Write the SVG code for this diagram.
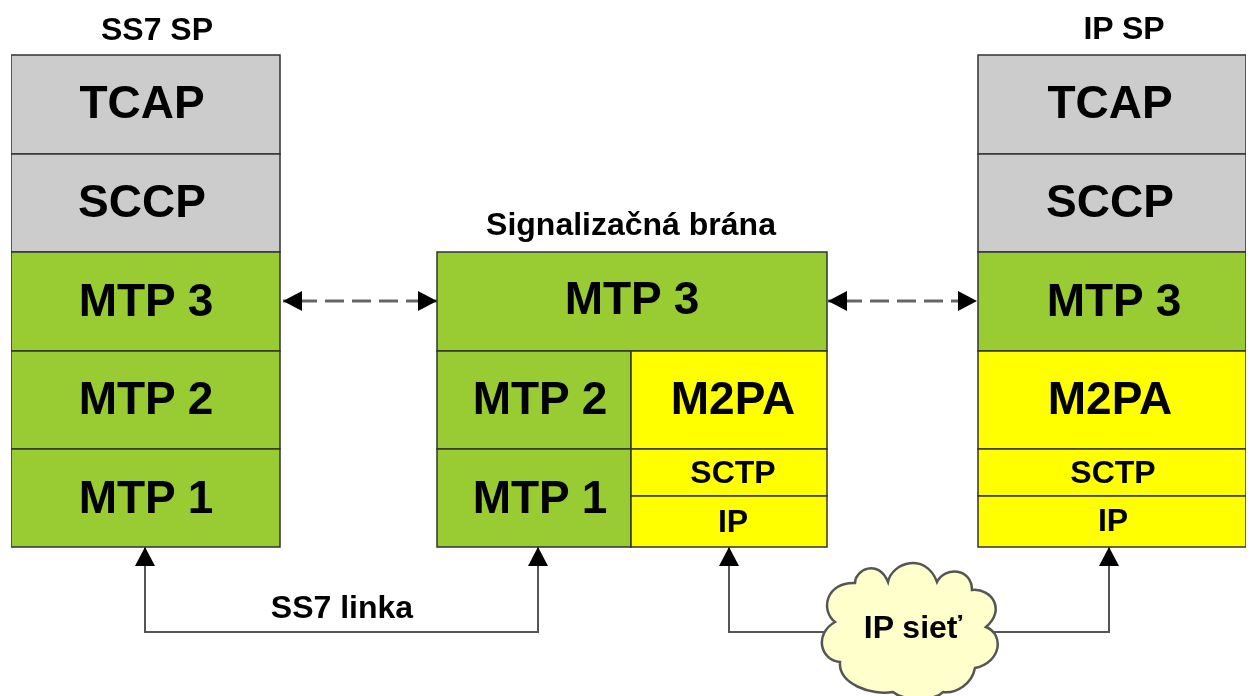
<svg xmlns="http://www.w3.org/2000/svg" width="1253" height="696" viewBox="0 0 1253 696">
<style>
text{font-family:"Liberation Sans",Arial,sans-serif;font-weight:700;fill:#000;text-anchor:middle}
.b{stroke:#333;stroke-width:1.5}
.g{fill:#ccc}.v{fill:#99cc33}.y{fill:#ffff00}
.l{font-size:46px}.m{font-size:32px}.t{font-size:32px}
.c{fill:none;stroke:#555;stroke-width:2}
.d{stroke:#666;stroke-width:3;stroke-dasharray:19 8;stroke-dashoffset:12}
</style>
<defs>
<marker id="a" markerUnits="userSpaceOnUse" markerWidth="20" markerHeight="22" refX="19" refY="11" orient="auto-start-reverse"><path d="M0 1L19 11L0 21Z" fill="#000"/></marker>
<filter id="soft" x="0" y="0" width="100%" height="100%"><feGaussianBlur stdDeviation="0.6"/></filter>
</defs>
<rect width="1253" height="696" fill="#fff"/>
<g filter="url(#soft)">
<g id="connectors">
<path class="c d" d="M283 301H437" marker-start="url(#a)" marker-end="url(#a)"/>
<path class="c d" d="M828 301H977" marker-start="url(#a)" marker-end="url(#a)"/>
<path class="c" d="M145 547V632H538V547" marker-start="url(#a)" marker-end="url(#a)"/>
<path class="c" d="M729 547V632H830" marker-start="url(#a)"/>
<path class="c" d="M992 632H1109V547" marker-end="url(#a)"/>
</g>
<g id="ss7-sp">
<text class="t" x="157" y="40">SS7 SP</text>
<rect class="b g" x="11" y="55" width="269" height="99"/><text class="l" x="142" y="118">TCAP</text>
<rect class="b g" x="11" y="154" width="269" height="98"/><text class="l" x="142" y="217">SCCP</text>
<rect class="b v" x="11" y="252" width="269" height="99"/><text class="l" x="146" y="316">MTP 3</text>
<rect class="b v" x="11" y="351" width="269" height="98"/><text class="l" x="146" y="414">MTP 2</text>
<rect class="b v" x="11" y="449" width="269" height="98"/><text class="l" x="146" y="513">MTP 1</text>
</g>
<g id="gateway">
<text class="t" x="631" y="235">Signalizačná brána</text>
<rect class="b v" x="437" y="252" width="390" height="99"/><text class="l" x="632" y="314">MTP 3</text>
<rect class="b v" x="437" y="351" width="194" height="98"/><text class="l" x="540" y="414">MTP 2</text>
<rect class="b y" x="631" y="351" width="196" height="98"/><text class="l" x="733" y="414">M2PA</text>
<rect class="b v" x="437" y="449" width="194" height="98"/><text class="l" x="540" y="513">MTP 1</text>
<rect class="b y" x="631" y="449" width="196" height="47"/><text class="m" x="733" y="483">SCTP</text>
<rect class="b y" x="631" y="496" width="196" height="51"/><text class="m" x="733" y="532">IP</text>
</g>
<g id="ip-sp">
<text class="t" x="1124" y="39">IP SP</text>
<rect class="b g" x="978" y="55" width="268" height="99"/><text class="l" x="1110" y="118">TCAP</text>
<rect class="b g" x="978" y="154" width="268" height="98"/><text class="l" x="1110" y="217">SCCP</text>
<rect class="b v" x="978" y="252" width="268" height="99"/><text class="l" x="1114" y="316">MTP 3</text>
<rect class="b y" x="978" y="351" width="268" height="98"/><text class="l" x="1110" y="414">M2PA</text>
<rect class="b y" x="978" y="449" width="268" height="47"/><text class="m" x="1113" y="483">SCTP</text>
<rect class="b y" x="978" y="496" width="268" height="51"/><text class="m" x="1113" y="531">IP</text>
</g>
<g id="ss7-link"><text class="t" x="342" y="618">SS7 linka</text></g>
<g id="ip-network">
<path d="M855 583C855 570 878 558 888 582C892 562 926 552 937 582C945 566 972 568 972 590C992 588 1006 610 986 627C1004 634 1002 662 975 668C972 684 956 694 943 692C936 700 905 702 893 692C872 696 838 684 840 662C820 660 814 634 835 622C820 610 826 582 855 583Z" fill="#ffffcc" stroke="#555" stroke-width="2.5"/>
<text class="t" x="913" y="638">IP sieť</text>
</g>
</g>
</svg>
